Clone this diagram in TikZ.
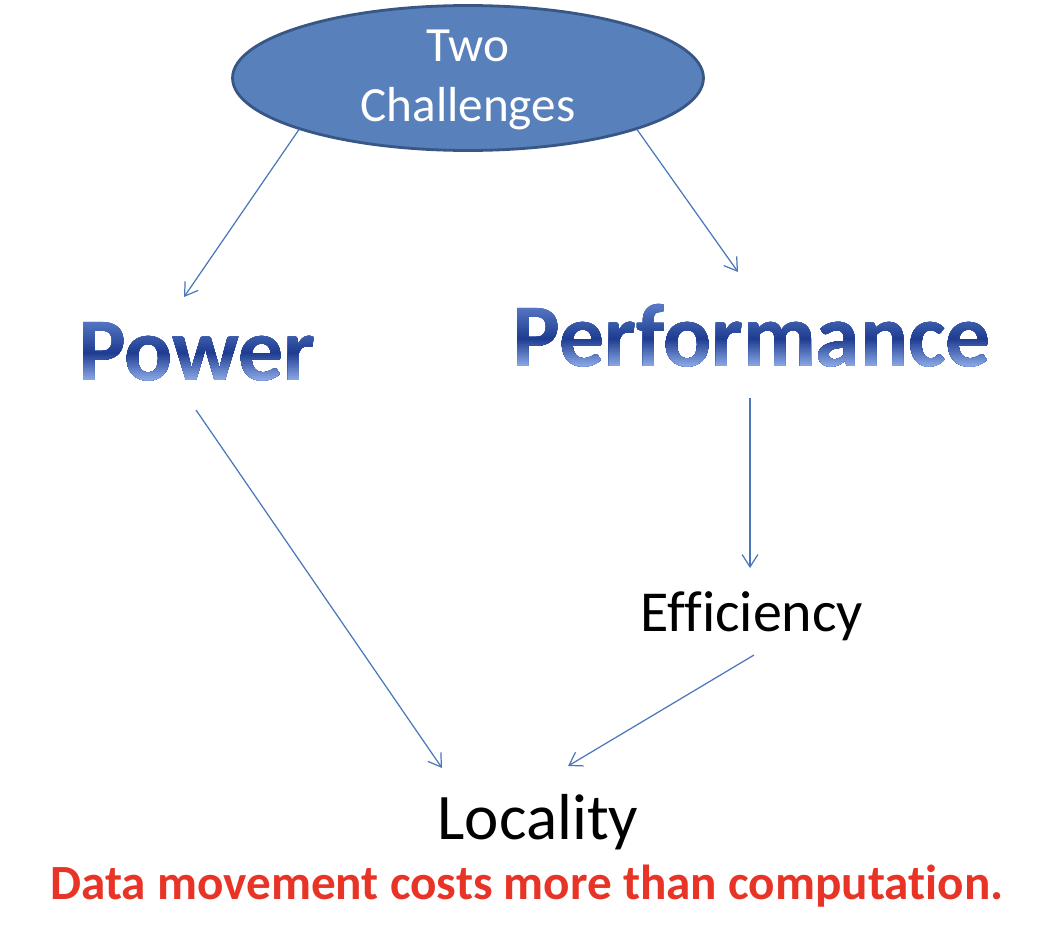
\documentclass[tikz,border=0pt]{standalone}
\usepackage{fontspec}
\setmainfont{Carlito}[Ligatures=NoCommon]
\usetikzlibrary{shapes.geometric,arrows.meta,calc}

\definecolor{ovalfill}{RGB}{88,128,186}
\definecolor{ovaldraw}{RGB}{56,86,134}
\definecolor{arrowblue}{RGB}{74,118,186}
\definecolor{alertred}{RGB}{232,52,38}
\definecolor{gtop}{HTML}{5678C4}
\definecolor{gdark}{HTML}{1E3C90}
\definecolor{glight}{HTML}{8EACE8}

\tikzset{
  arr/.style={draw=arrowblue, line width=0.7pt, -{Straight Barb[length=7pt,width=9pt,line width=0.7pt]}},
  bigword/.style={anchor=base, inner sep=0pt, font=\fontsize{51}{58}\selectfont\bfseries},
  word/.style={anchor=base, inner sep=0pt, font=\fontsize{33}{40}\selectfont}
}

\begin{document}
\begin{tikzpicture}[x=0.02cm, y=-0.02cm]
  \useasboundingbox (0,0) rectangle (1040,946);

  % Top oval
  \node[ellipse, fill=ovalfill, draw=ovaldraw, line width=1.6pt,
        minimum width=9.42cm, minimum height=2.9cm, inner sep=0pt] (two) at (468,78) {};
  \node[text=white, align=center, font=\fontsize{28}{34}\selectfont] (twolabel) at (468,80) {Two\\Challenges};

  % Power / Performance (layered strips fake the gradient)
  \node[bigword, text=gdark] (power) at (197,380) {Power};
  \node[bigword, text=gdark] (perf) at (752,366) {Performance};
  \foreach \k in {0,...,29}{
    \pgfmathsetmacro\ya{\k==0 ? -95 : -60+2*\k}
    \pgfmathsetmacro\pa{min(100,max(0,2*\k/32*100))}
    \pgfmathsetmacro\pb{max(0,(2*\k-32)/28*100)}
    \colorlet{stripe}{gdark!\pa!gtop}
    \colorlet{stripe}{glight!\pb!stripe}
    \begin{scope}
      \clip (0,380+\ya) rectangle (1040,405);
      \node[bigword, text=stripe] (power\k) at (197,380) {Power};
    \end{scope}
    \begin{scope}
      \clip (0,366+\ya) rectangle (1040,391);
      \node[bigword, text=stripe] (perf\k) at (752,366) {Performance};
    \end{scope}
  }

  % Plain words
  \node[word] (eff) at (752,631) {Efficiency};
  \node[word, font=\fontsize{37}{44}\selectfont] (loc) at (538,839) {Locality};
  \node[anchor=base, inner sep=0pt, text=alertred, font=\fontsize{28}{34}\selectfont\bfseries]
        (note) at (527,899) {Data movement costs more than computation.};

  % Arrows
  \draw[arr] (two.197) -- ([shift={(-13,-83)}]power.base);
  \draw[arr] (two.343) -- ([shift={(-14,-94)}]perf.base);
  \draw[arr] ([shift={(-1,30)}]power.base) -- ([shift={(-96,-71)}]loc.base);
  \draw[arr] ([shift={(-2,32)}]perf.base) -- ([shift={(-2,-63)}]eff.base);
  \draw[arr] ([shift={(2,24)}]eff.base) -- ([shift={(30,-73)}]loc.base);
\end{tikzpicture}
\end{document}
